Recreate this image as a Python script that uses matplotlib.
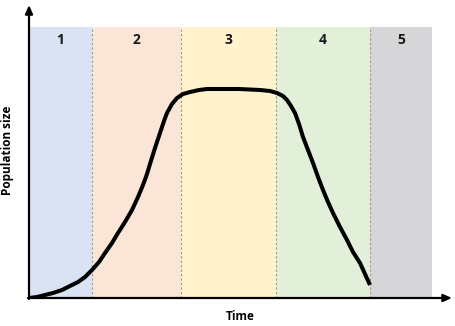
import matplotlib.pyplot as plt

# phase bands (time units along x axis)
band_edges = [0, 63, 152, 247, 341, 403]
band_labels = ["1", "2", "3", "4", "5"]
band_colors = ["#dae3f3", "#fbe5d6", "#fff2cc", "#e2f0d9", "#d6d5d7"]
band_top = 271

# population curve
time = [0, 8, 16, 24, 33, 41, 49, 56, 63, 70, 76, 83, 89, 96, 103, 109,
        114, 118, 121, 126, 131, 135, 138, 143, 148, 154, 161, 170, 178,
        191, 210, 231, 241, 248, 254, 258, 262, 266, 270, 274, 279, 284,
        289, 294, 299, 304, 311, 318, 324, 331, 336, 341]
pop = [0, 1, 3, 5, 8, 12, 16, 21, 28, 36, 45, 55, 65, 76, 88, 101,
       113, 124, 134, 150, 165, 177, 185, 194, 200, 204, 206, 208, 209,
       209, 209, 208, 207, 205, 202, 198, 192, 185, 174, 161, 148, 135,
       121, 108, 96, 85, 71, 58, 46, 35, 24, 13]

plt.rcParams["font.family"] = ["Open Sans", "DejaVu Sans"]

fig = plt.figure(figsize=(4.56, 3.26), dpi=100)
ax = fig.add_axes([29 / 456, 28 / 326, 423 / 456, 293 / 326])
ax.set_xlim(0, 423)
ax.set_ylim(0, 293)
ax.axis("off")

for i, lab in enumerate(band_labels):
    x0, x1 = band_edges[i], band_edges[i + 1]
    ax.fill_between([x0, x1], 0, band_top, color=band_colors[i], lw=0, zorder=0)
    ax.text((x0 + x1) / 2, band_top - 13, lab, ha="center", va="center",
            fontsize=10, fontweight="bold", color="#1a1a1a")
for x in band_edges[1:-1]:
    ax.plot([x, x], [0, band_top], color="#9a9a9a", lw=0.8, ls=(0, (2, 2)), zorder=1)

ax.plot(time, pop, color="black", lw=2.9, solid_capstyle="butt",
        solid_joinstyle="round", zorder=3)

# axes with arrowheads
arrow = dict(arrowstyle="-|>,head_length=0.5,head_width=0.22", color="black", lw=1.6,
             shrinkA=0, shrinkB=0)
ax.annotate("", xy=(423, 0), xytext=(-1, 0), arrowprops=arrow, zorder=4)
ax.annotate("", xy=(0, 293), xytext=(0, -1), arrowprops=arrow, zorder=4)

fig.text(240 / 456, 1 - 316 / 326, "Time", ha="center", va="center",
         fontsize=8.5, fontweight="bold")
fig.text(8 / 456, 1 - 150 / 326, "Population size", ha="center", va="center",
         rotation=90, fontsize=8.5, fontweight="bold")

fig.savefig("out.png", dpi=100)
